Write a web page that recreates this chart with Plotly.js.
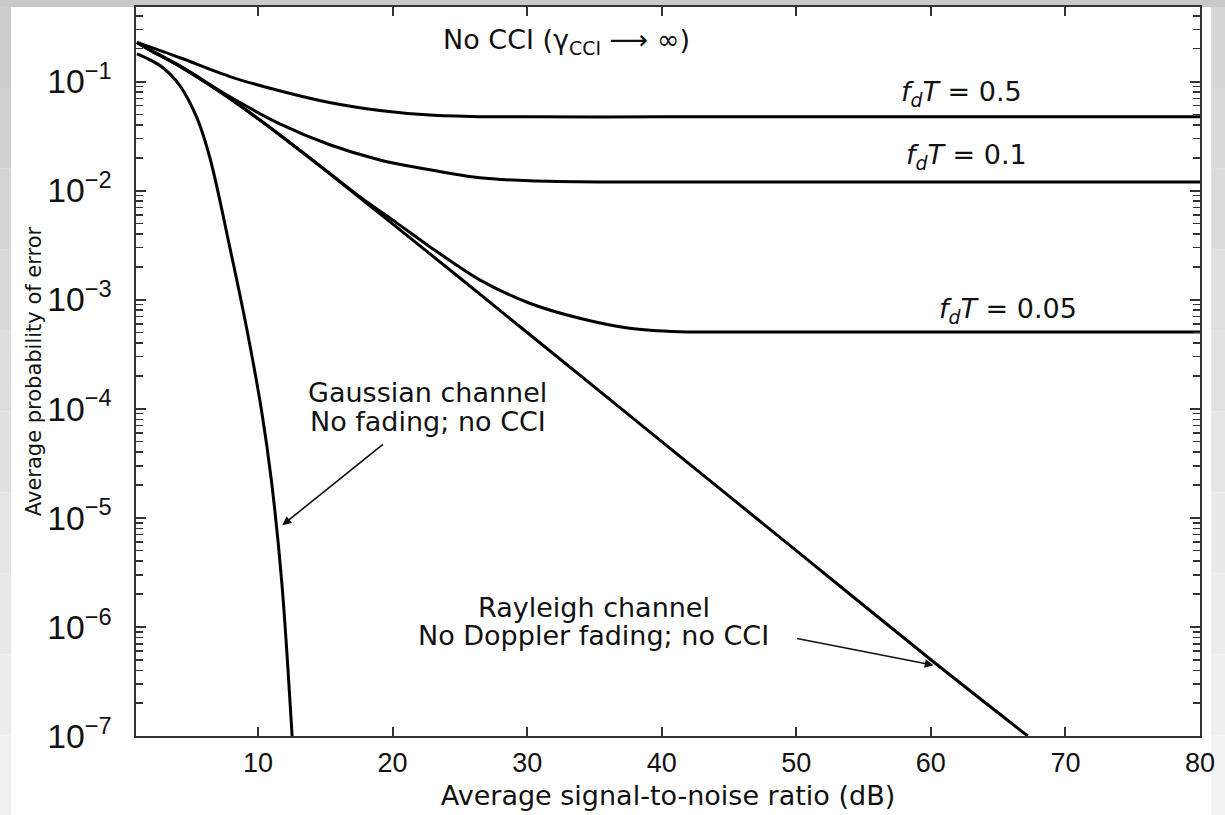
<!DOCTYPE html>
<html><head><meta charset="utf-8">
<script src="https://cdn.plot.ly/plotly-3.0.1.min.js"></script>
<style>html,body{margin:0;padding:0;background:#fff}#chart{width:1225px;height:815px}</style>
</head><body><div id="chart"></div>
<script>
// ---- data (SNR in dB, average probability of error) ----
const snrGauss = [1, 1.97, 2.93, 4.2, 5.46, 6.42, 7.91, 9.15, 10.29, 10.99, 11.75, 12.53];
const peGauss  = [0.1795, 0.158, 0.1336, 0.0914, 0.0464, 0.0200, 2.98e-3, 5.5e-4, 9.1e-5, 2.21e-5, 2.68e-6, 1.0e-7];

const snrRayleigh = [1, 2, 3, 4, 5, 6, 8, 10, 12, 15, 17.5, 20, 25, 30, 40, 50, 60, 67.2];
const peRayleigh  = [0.228, 0.193, 0.166, 0.142, 0.120, 0.100, 0.0685, 0.0455, 0.0297, 0.0153, 0.0087, 0.00495, 0.00158, 5.0e-4, 5.0e-5, 5.0e-6, 5.0e-7, 1.0e-7];

const snrFd05 = [1, 4.2, 7.9, 11.6, 15.3, 19.05, 22.76, 26.47, 30.18, 40, 50, 60, 70, 80];
const peFd05  = [0.228, 0.165, 0.111, 0.0822, 0.0641, 0.0542, 0.0492, 0.0476, 0.0474, 0.0474, 0.0474, 0.0474, 0.0474, 0.0474];

const snrFd01 = [1, 2, 4.2, 7.91, 11.62, 15.33, 19.05, 22.76, 26.47, 30.18, 35.4, 40, 50, 60, 70, 80];
const peFd01  = [0.228, 0.194, 0.139, 0.0724, 0.0409, 0.0263, 0.0191, 0.0155, 0.0131, 0.0123, 0.0120, 0.0120, 0.0120, 0.0120, 0.0120, 0.0120];

const snrFd005 = [1, 2, 4, 6, 8, 10, 12, 15, 17.5, 20.3, 22.76, 26.47, 30.18, 33.9, 37.6, 41.3, 45, 50, 60, 70, 80];
const peFd005  = [0.228, 0.193, 0.142, 0.100, 0.0686, 0.0457, 0.0299, 0.0155, 0.0089, 5.06e-3, 3.06e-3, 1.52e-3, 9.27e-4, 6.75e-4, 5.47e-4, 5.08e-4, 5.06e-4, 5.06e-4, 5.06e-4, 5.06e-4, 5.06e-4];

const xTickVals = [10, 20, 30, 40, 50, 60, 70, 80];

// ---- styling ----
const FONT = 'DejaVu Sans, Liberation Sans, Arial, sans-serif';
const TICKFONT = 'Liberation Sans, Arial, sans-serif';
const AX = '#333333';

function tr(x, y, smooth) {
  return {x: x, y: y, type: 'scatter', mode: 'lines',
          line: {color: '#000000', width: 3, shape: 'spline', smoothing: smooth},
          hoverinfo: 'skip', showlegend: false};
}
const traces = [
  tr(snrGauss, peGauss, 1.0),
  tr(snrRayleigh, peRayleigh, 0.8),
  tr(snrFd05, peFd05, 0.8),
  tr(snrFd01, peFd01, 0.8),
  tr(snrFd005, peFd005, 0.8)
];

// background frame (slide border)
const shapes = [];
function hex(v){v=Math.round(v);return ('0'+v.toString(16)).slice(-2);}
function grey(v){return '#'+hex(v)+hex(v)+hex(v);}
shapes.push({type:'rect', xref:'paper', yref:'paper', x0:-0.15, x1:1.05, y0:1, y1:1.02, line:{width:0}, fillcolor:'#c9c9c9', layer:'below'});
const bands = 10;
for (let i = 0; i < bands; i++) {
  const y1 = 1 - i * (1.11 / bands), y0 = 1 - (i + 1) * (1.11 / bands);
  shapes.push({type:'rect', xref:'paper', yref:'paper', x0:-0.15, x1:-0.1175, y0:y0, y1:y1, line:{width:0}, fillcolor:grey(205 + (240-205)*i/(bands-1)), layer:'below'});
  shapes.push({type:'rect', xref:'paper', yref:'paper', x0:1.0105, x1:1.05, y0:y0, y1:y1, line:{width:0}, fillcolor:grey(214 + (242-214)*i/(bands-1)), layer:'below'});
}

const txtFont = {family: FONT, size: 27, color: '#111'};
function lab(text, x, y) {
  return {text: text, xref: 'paper', yref: 'paper', x: x, y: y, xanchor: 'center', yanchor: 'middle', showarrow: false, font: txtFont};
}
const annotations = [
  lab('No CCI (γ<sub>CCI</sub> ⟶ ∞)', 0.405, 0.952),
  lab('<i>f</i><sub><i>d</i></sub><i>T</i> = 0.5', 0.776, 0.882),
  lab('<i>f</i><sub><i>d</i></sub><i>T</i> = 0.1', 0.781, 0.795),
  lab('<i>f</i><sub><i>d</i></sub><i>T</i> = 0.05', 0.8195, 0.583),
  lab('Gaussian channel', 0.2744, 0.4712),
  lab('No fading; no CCI', 0.2744, 0.4314),
  lab('Rayleigh channel', 0.43, 0.1763),
  lab('No Doppler fading; no CCI', 0.43, 0.1372),
  {text: '', x: 11.81, y: -5.067, xref: 'x', yref: 'y', showarrow: true, arrowhead: 2, arrowsize: 1.1, arrowwidth: 1.6, arrowcolor: '#111', ax: 102, ay: -82, standoff: 0},
  {text: '', x: 60.2, y: -6.351, xref: 'x', yref: 'y', showarrow: true, arrowhead: 2, arrowsize: 1.1, arrowwidth: 1.6, arrowcolor: '#111', ax: -138, ay: -27, standoff: 0}
];

const layout = {
  width: 1225, height: 815,
  margin: {l: 136, r: 25, t: 7, b: 79, pad: 0, autoexpand: false},
  paper_bgcolor: '#ffffff', plot_bgcolor: '#ffffff',
  showlegend: false,
  xaxis: {
    range: [0.93, 80], tickvals: xTickVals, ticktext: xTickVals.map(String),
    ticks: 'inside', ticklen: 9, tickwidth: 2, tickcolor: AX,
    showline: true, linecolor: AX, linewidth: 2, mirror: 'ticks',
    showgrid: false, zeroline: false,
    tickfont: {family: TICKFONT, size: 27, color: '#111'}, ticklabelstandoff: 2,
    title: {text: 'Average signal-to-noise ratio (dB)', font: {family: FONT, size: 27, color: '#111'}, standoff: 9}
  },
  yaxis: {
    type: 'log', range: [-7, -0.317], dtick: 1, exponentformat: 'power',
    ticks: 'inside', ticklen: 10, tickwidth: 2, tickcolor: AX,
    minor: {ticks: 'inside', ticklen: 7, tickwidth: 1.5, tickcolor: AX, dtick: 'D1', showgrid: false},
    showline: true, linecolor: AX, linewidth: 2, mirror: 'ticks',
    showgrid: false, zeroline: false,
    tickfont: {family: TICKFONT, size: 27, color: '#111'}, ticklabelstandoff: 17,
    title: {text: 'Average probability of error', font: {family: FONT, size: 21, color: '#111'}, standoff: 0}
  },
  shapes: shapes,
  annotations: annotations
};

Plotly.newPlot('chart', traces, layout, {displayModeBar: false, staticPlot: true});
</script></body></html>
